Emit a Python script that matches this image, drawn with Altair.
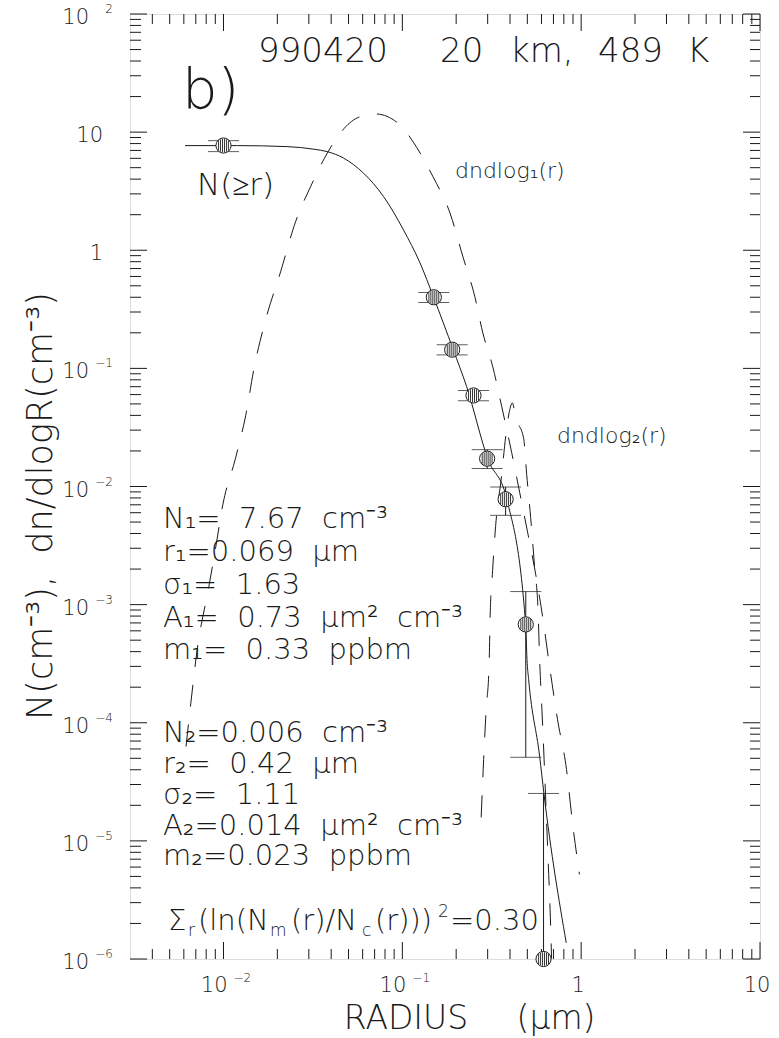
import altair as alt
import pandas as pd

# ---------------- data ----------------
# measured points N(>=r) with error bars
pt_r = [0.0100, 0.150, 0.190, 0.250, 0.298, 0.378, 0.490, 0.616]
pt_n = [7.7, 0.400, 0.144, 0.059, 0.0172, 0.0078, 6.8e-4, 1.0e-6]
pt_lo = [6.84, 0.361, 0.130, 0.0532, 0.0142, 0.0057, 5.1e-5, 1e-7]
pt_hi = [8.47, 0.439, 0.1585, 0.065, 0.0205, 0.0099, 1.29e-3, 2.52e-5]

# fitted cumulative curve N(>=r) (solid)
fit_r = [0.0061, 0.0120, 0.0227, 0.0320, 0.0380, 0.0470, 0.0607, 0.0785, 0.1014,
         0.1257, 0.149, 0.1927, 0.2287, 0.3018, 0.382, 0.4894, 0.4977, 0.5087,
         0.5858, 0.619, 0.825]
fit_n = [7.69, 7.69, 7.54, 7.17, 6.84, 6.02, 4.49, 2.85, 1.49,
         0.778, 0.4057, 0.1437, 0.0703, 0.01685, 0.0080, 6.77e-4, 3.43e-4, 2.32e-4,
         5.2e-5, 2.52e-5, 1.37e-6]

# mode 1 dn/dlogr (dashed)
m1_r = [0.00617, 0.00657, 0.00710, 0.00828, 0.00906, 0.00991, 0.01163, 0.0133, 0.01485,
        0.0171, 0.02085, 0.02528, 0.03064, 0.0381, 0.04334, 0.0560, 0.0706, 0.0972,
        0.1149, 0.1485, 0.1846, 0.2182, 0.2545, 0.2818, 0.3205, 0.3597, 0.409,
        0.4533, 0.5023, 0.5636, 0.6087, 0.666, 0.738, 0.828, 0.894, 0.978]
m1_n = [6.29e-5, 1.48e-4, 4.0e-4, 1.42e-3, 3.1e-3, 7.0e-3, 0.0170, 0.0397, 0.102,
        0.250, 0.656, 1.74, 3.44, 6.67, 9.11, 13.2, 14.26, 11.5,
        8.27, 4.18, 2.07, 0.88, 0.403, 0.200, 0.103, 0.0473, 0.0193,
        8.87e-3, 4.06e-3, 1.63e-3, 7.9e-4, 2.99e-4, 1.06e-4, 4.02e-5, 1.43e-5, 5.2e-6]

# mode 2 dn/dlogr (dashed)
m2_r = [0.2759, 0.2849, 0.2938, 0.3056, 0.3096, 0.3197, 0.3322, 0.3583, 0.3812, 0.3988,
        0.412, 0.4305, 0.4771, 0.4959, 0.5219, 0.5494, 0.5746, 0.5858, 0.6034, 0.6205,
        0.6366, 0.6531, 0.6702, 0.6831]
m2_n = [1.58e-5, 4.89e-5, 1.245e-4, 3.10e-4, 7.76e-4, 1.94e-3, 4.57e-3, 0.0121, 0.0291, 0.0447,
        0.051, 0.0382, 0.0254, 0.0126, 5.45e-3, 2.06e-3, 8.55e-4, 3.43e-4, 1.29e-4, 4.89e-5,
        1.85e-5, 6.97e-6, 2.63e-6, 1.01e-6]

# axis ticks and labels
x_major = [0.01, 0.1, 1, 10]
x_minor = [k * 10.0 ** e for e in (-3, -2, -1, 0) for k in range(2, 10) if 0.003 < k * 10.0 ** e < 10]
y_major = [10.0 ** e for e in range(-6, 3)]
y_minor = [k * 10.0 ** e for e in range(-6, 2) for k in range(2, 10)]

x_exp_vals = [0.01, 0.1]
x_exp_base = ["10", "10"]
x_exp_sup = ["\u22122", "\u22121"]
x_plain_vals = [1, 10]
x_plain_text = ["1", "10"]

y_exp_vals = [100, 0.1, 0.01, 1e-3, 1e-4, 1e-5, 1e-6]
y_exp_base = ["10"] * 7
y_exp_sup = ["2", "\u22121", "\u22122", "\u22123", "\u22124", "\u22125", "\u22126"]
y_plain_vals = [10, 1]
y_plain_text = ["10", "1"]

SP = "\u00a0\u00a0"
info_lines = [
    "N\u2081=" + SP + "7.67" + SP + "cm\u207b\u00b3",
    "r\u2081=0.069" + SP + "\u03bcm",
    "\u03c3\u2081=" + SP + "1.63",
    "A\u2081=" + SP + "0.73" + SP + "\u03bcm\u00b2" + SP + "cm\u207b\u00b3",
    "m\u2081=" + SP + "0.33" + SP + "ppbm",
    "N\u2082=0.006" + SP + "cm\u207b\u00b3",
    "r\u2082=" + SP + "0.42" + SP + "\u03bcm",
    "\u03c3\u2082=" + SP + "1.11",
    "A\u2082=0.014" + SP + "\u03bcm\u00b2" + SP + "cm\u207b\u00b3",
    "m\u2082=0.023" + SP + "ppbm",
]

# ---------------- chart ----------------
W, H = 630, 945
FONT = "DejaVu Sans"
FW = 200
INK = "#1a1a1a"

xs = alt.Scale(type="log", domain=[0.003, 10], nice=False)
ys = alt.Scale(type="log", domain=[1e-6, 100], nice=False)


def X(f):
    return alt.X(f + ":Q", scale=xs, axis=None)


def Y(f):
    return alt.Y(f + ":Q", scale=ys, axis=None)


def note(text, x, y, size, align="left", baseline="alphabetic", angle=0):
    return alt.Chart(pd.DataFrame({"t": [text]})).mark_text(
        align=align, baseline=baseline, fontSize=size, font=FONT,
        fontWeight=FW, color=INK, angle=angle
    ).encode(x=alt.value(x), y=alt.value(y), text="t:N")


pts = pd.DataFrame({"r": pt_r, "n": pt_n, "lo": pt_lo, "hi": pt_hi})
fit = pd.DataFrame({"r": fit_r, "n": fit_n})
m1 = pd.DataFrame({"r": m1_r, "n": m1_n})
m2 = pd.DataFrame({"r": m2_r, "n": m2_n})

line_fit = alt.Chart(fit).mark_line(color=INK, strokeWidth=1, interpolate="monotone", clip=True).encode(
    x=X("r"), y=Y("n"))
dash = [22, 18]
line_m1 = alt.Chart(m1).mark_line(color=INK, strokeWidth=1, strokeDash=dash, interpolate="monotone", clip=True).encode(
    x=X("r"), y=Y("n"))
line_m2 = alt.Chart(m2).mark_line(color=INK, strokeWidth=1, strokeDash=dash, interpolate="monotone", clip=True).encode(
    x=X("r"), y=Y("n"))

err = alt.Chart(pts).mark_rule(color=INK, strokeWidth=1, clip=True).encode(
    x=X("r"), y=Y("lo"), y2="hi:Q")
cap_lo = alt.Chart(pts).mark_tick(color=INK, orient="horizontal", size=31, thickness=1, clip=True).encode(
    x=X("r"), y=Y("lo"))
cap_hi = alt.Chart(pts).mark_tick(color=INK, orient="horizontal", size=31, thickness=1, clip=True).encode(
    x=X("r"), y=Y("hi"))
dots = alt.Chart(pts).mark_point(shape="circle", size=230, filled=True, fill="white", fillOpacity=1,
                                 stroke=INK, strokeWidth=1, opacity=1).encode(x=X("r"), y=Y("n"))
HATCH = ("M-0.65,-0.68L-0.65,0.68M-0.39,-0.83L-0.39,0.83M-0.13,-0.89L-0.13,0.89"
         "M0.13,-0.89L0.13,0.89M0.39,-0.83L0.39,0.83M0.65,-0.68L0.65,0.68")
hatch = alt.Chart(pts).mark_point(shape=HATCH, size=230, filled=False, stroke="#333333",
                                  strokeWidth=1, opacity=1).encode(x=X("r"), y=Y("n"))

# inward ticks on all four sides
xmaj = pd.DataFrame({"v": x_major})
xmin = pd.DataFrame({"v": x_minor})
ymaj = pd.DataFrame({"v": y_major})
ymin = pd.DataFrame({"v": y_minor})
tk = dict(color=INK, strokeWidth=1)
ticks = [
    alt.Chart(xmaj).mark_rule(**tk).encode(x=X("v"), y=alt.value(H), y2=alt.value(H - 17)),
    alt.Chart(xmin).mark_rule(**tk).encode(x=X("v"), y=alt.value(H), y2=alt.value(H - 10)),
    alt.Chart(xmaj).mark_rule(**tk).encode(x=X("v"), y=alt.value(0), y2=alt.value(17)),
    alt.Chart(xmin).mark_rule(**tk).encode(x=X("v"), y=alt.value(0), y2=alt.value(10)),
    alt.Chart(ymaj).mark_rule(**tk).encode(y=Y("v"), x=alt.value(0), x2=alt.value(17)),
    alt.Chart(ymin).mark_rule(**tk).encode(y=Y("v"), x=alt.value(0), x2=alt.value(11)),
    alt.Chart(ymaj).mark_rule(**tk).encode(y=Y("v"), x=alt.value(W), x2=alt.value(W - 17)),
    alt.Chart(ymin).mark_rule(**tk).encode(y=Y("v"), x=alt.value(W), x2=alt.value(W - 10)),
]

txt = dict(font=FONT, fontWeight=FW, color=INK, baseline="middle")
xe = pd.DataFrame({"v": x_exp_vals, "b": x_exp_base, "e": x_exp_sup})
xp = pd.DataFrame({"v": x_plain_vals, "t": x_plain_text})
ye = pd.DataFrame({"v": y_exp_vals, "b": y_exp_base, "e": y_exp_sup})
yp = pd.DataFrame({"v": y_plain_vals, "t": y_plain_text})
labels = [
    alt.Chart(xe).mark_text(align="right", dx=4, fontSize=21, **txt).encode(x=X("v"), y=alt.value(H + 27), text="b:N"),
    alt.Chart(xe).mark_text(align="left", dx=10, fontSize=12, **txt).encode(x=X("v"), y=alt.value(H + 19), text="e:N"),
    alt.Chart(xp).mark_text(align="center", dx=-3, fontSize=21, **txt).encode(x=X("v"), y=alt.value(H + 27), text="t:N"),
    alt.Chart(ye).mark_text(align="right", dy=4, fontSize=21, **txt).encode(y=Y("v"), x=alt.value(-41), text="b:N"),
    alt.Chart(ye).mark_text(align="right", dy=-5, fontSize=12, **txt).encode(y=Y("v"), x=alt.value(-17), text="e:N"),
    alt.Chart(yp).mark_text(align="right", dy=4, fontSize=21, **txt).encode(y=Y("v"), x=alt.value(-27), text="t:N"),
]

SB = 916  # baseline of the chi-square line (plot coordinates)
notes = [
    note("b)", 52, 94, 56),
    note("990420", 128, 48, 34),
    note("20", 310, 48, 34),
    note("km,", 380, 48, 34),
    note("489", 468, 48, 34),
    note("K", 557, 48, 34),
    note("N(\u2265r)", 67, 181, 31),
    note("dndlog\u2081(r)", 325, 164, 22),
    note("dndlog\u2082(r)", 427, 429, 22),
    note("RADIUS", 276, 1015, 33, align="center"),
    note("(\u03bcm)", 426, 1015, 33, align="center"),
    note("N(cm\u207b\u00b3),\u00a0\u00a0dn/dlogR(cm\u207b\u00b3)", -89, 492, 35,
         align="center", baseline="middle", angle=270),
    # chi-square line, built from pieces for the sub/superscripts
    note("\u03a3", 38, SB, 29),
    note("r", 58, SB + 6, 17),
    note("(ln(N", 68, SB, 29),
    note("m", 140, SB + 6, 17),
    note("(r)/N", 161, SB, 29),
    note("c", 232, SB + 6, 17),
    note("(r)))", 245, SB, 29),
    note("2", 308, SB - 13, 17),
    note("=0.30", 320, SB, 29),
]
baselines = [528, 561, 594, 627, 659, 742, 773, 804, 835, 865]
for s, b in zip(info_lines, baselines):
    notes.append(note(s, 33, b - 14, 29))

chart = alt.layer(
    *ticks, line_m1, line_m2, line_fit, err, cap_lo, cap_hi, dots, hatch, *labels, *notes
).properties(
    width=W, height=H,
    padding={"left": 130, "top": 14, "right": 19, "bottom": 79},
    autosize=alt.AutoSizeParams(type="none"),
).configure_view(stroke=INK, strokeWidth=1).configure(background="white")

chart.save("out.html", embed_options={"renderer": "svg", "actions": False})
